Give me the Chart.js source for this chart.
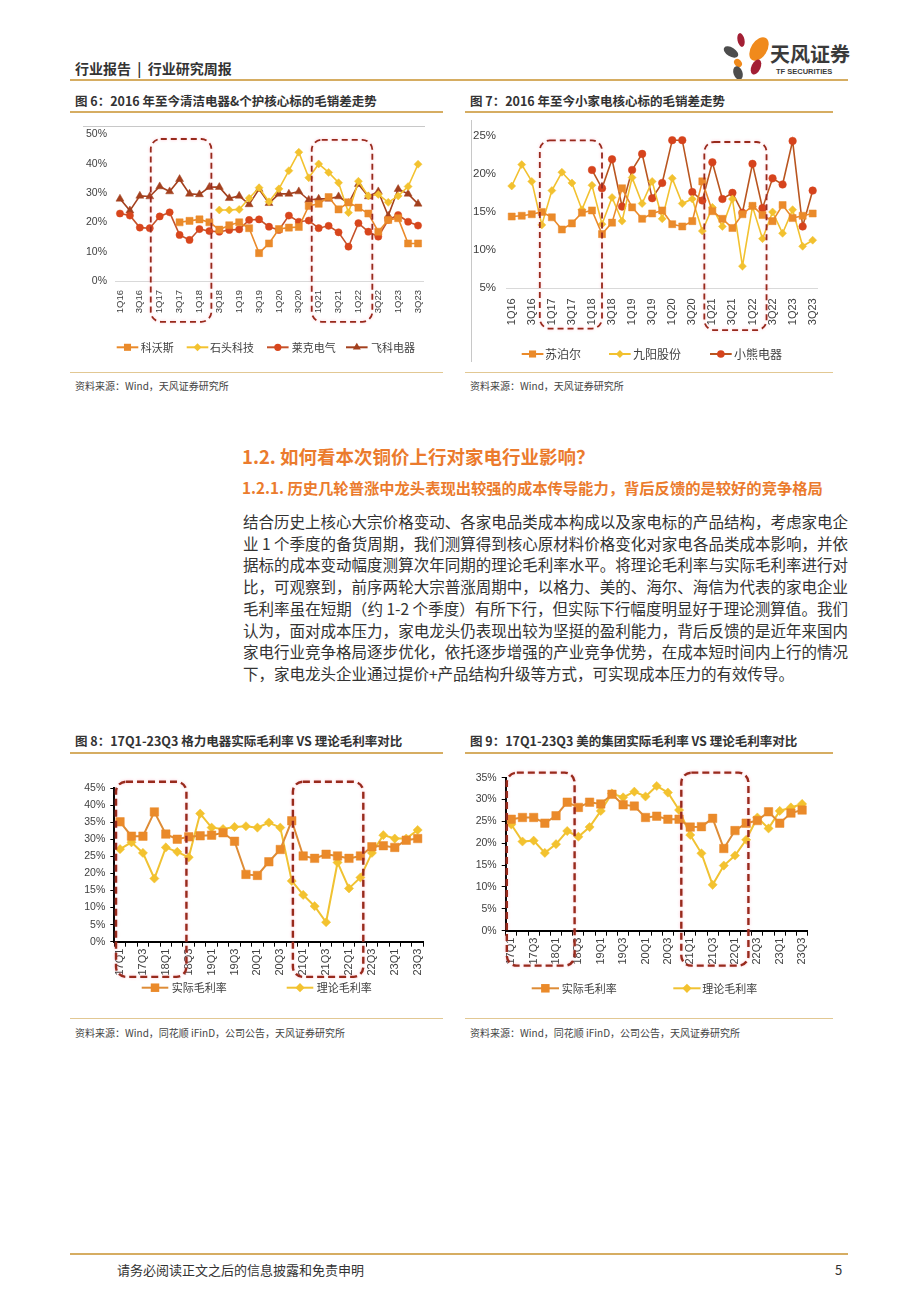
<!DOCTYPE html>
<html lang="zh-CN">
<head>
<meta charset="utf-8">
<title>行业研究周报</title>
<script src="https://cdn.jsdelivr.net/npm/chart.js@4.4.1/dist/chart.umd.min.js"></script>
<style>
  html, body { margin: 0; padding: 0; background: #fff; }
  body { width: 920px; height: 1302px; position: relative; overflow: hidden;
         font-family: "Noto Sans CJK SC", "Noto Sans", sans-serif; color: #333; }
  .a { position: absolute; white-space: nowrap; }
  .rule { position: absolute; background: #d6ad62; }
  .ctitle { font-size: 12.5px; font-weight: bold; line-height: 16px; color: #333; }
  .src { font-size: 10px; line-height: 14px; color: #444; }
  .h2 { font-size: 18.5px; font-weight: bold; line-height: 22px; color: #eb7b2d; }
  .h3 { font-size: 15.3px; font-weight: bold; line-height: 19px; color: #eb7b2d; }
  .body { position: absolute; left: 243px; top: 511px; width: 605px; font-size: 15.5px; line-height: 21.7px; color: #333; }
  .body div { text-align: justify; text-align-last: justify; white-space: nowrap; }
  .body div.last { text-align-last: left; }
  canvas { position: absolute; }
</style>
</head>
<body>

<!-- 页眉 -->
<div class="a" style="left:75px;top:59px;font-size:14px;font-weight:bold;line-height:18px;color:#333;">行业报告&nbsp;&nbsp;|&nbsp;&nbsp;行业研究周报</div>
<svg class="a" style="left:722px;top:30px;" width="50" height="52" viewBox="0 0 50 52">
  <ellipse cx="19" cy="10" rx="3.5" ry="7" fill="#a31f34" transform="rotate(-12 19 10)"/>
  <ellipse cx="37" cy="19" rx="8" ry="13" fill="#f08a1c" transform="rotate(32 37 19)"/>
  <ellipse cx="9" cy="22" rx="4.5" ry="8" fill="#4d4d4d" transform="rotate(-58 9 22)"/>
  <ellipse cx="16" cy="33" rx="3.5" ry="4.5" fill="#f08a1c" transform="rotate(-40 16 33)"/>
  <ellipse cx="34" cy="37" rx="4.5" ry="8" fill="#a31f34" transform="rotate(25 34 37)"/>
  <ellipse cx="16" cy="43" rx="4.5" ry="7" fill="#4d4d4d" transform="rotate(-20 16 43)"/>
</svg>
<div class="a" style="left:770px;top:42px;font-size:20px;font-weight:bold;line-height:24px;color:#3a3a3a;">天风证券</div>
<div class="a" style="left:776px;top:67px;font-size:7.5px;font-weight:bold;line-height:9px;color:#3a3a3a;font-family:'Liberation Sans',sans-serif;">TF SECURITIES</div>
<div class="rule" style="left:70px;top:79px;width:778px;height:2px;"></div>

<!-- 图6 / 图7 -->
<div class="a ctitle" style="left:75px;top:93px;">图 6：2016 年至今清洁电器&amp;个护核心标的毛销差走势</div>
<div class="a ctitle" style="left:470px;top:93px;">图 7：2016 年至今小家电核心标的毛销差走势</div>
<div class="rule" style="left:70px;top:111px;width:373px;height:1.5px;"></div>
<div class="rule" style="left:465px;top:111px;width:368px;height:1.5px;"></div>
<canvas id="c6" width="375" height="250" style="left:70px;top:118px;width:375px;height:250px;"></canvas>
<canvas id="c7" width="375" height="250" style="left:465px;top:118px;width:375px;height:250px;"></canvas>
<div class="rule" style="left:70px;top:372px;width:373px;height:1px;background:#e2c893;"></div>
<div class="rule" style="left:465px;top:372px;width:368px;height:1px;background:#e2c893;"></div>
<div class="a src" style="left:75px;top:379px;">资料来源：Wind，天风证券研究所</div>
<div class="a src" style="left:470px;top:379px;">资料来源：Wind，天风证券研究所</div>

<!-- 正文 -->
<div class="a h2" style="left:242px;top:445px;">1.2. 如何看本次铜价上行对家电行业影响？</div>
<div class="a h3" style="left:242px;top:478px;">1.2.1. 历史几轮普涨中龙头表现出较强的成本传导能力，背后反馈的是较好的竞争格局</div>
<div class="body">
  <div>结合历史上核心大宗价格变动、各家电品类成本构成以及家电标的产品结构，考虑家电企</div>
  <div>业 1 个季度的备货周期，我们测算得到核心原材料价格变化对家电各品类成本影响，并依</div>
  <div>据标的成本变动幅度测算次年同期的理论毛利率水平。将理论毛利率与实际毛利率进行对</div>
  <div>比，可观察到，前序两轮大宗普涨周期中，以格力、美的、海尔、海信为代表的家电企业</div>
  <div>毛利率虽在短期（约 1-2 个季度）有所下行，但实际下行幅度明显好于理论测算值。我们</div>
  <div>认为，面对成本压力，家电龙头仍表现出较为坚挺的盈利能力，背后反馈的是近年来国内</div>
  <div>家电行业竞争格局逐步优化，依托逐步增强的产业竞争优势，在成本短时间内上行的情况</div>
  <div class="last">下，家电龙头企业通过提价+产品结构升级等方式，可实现成本压力的有效传导。</div>
</div>

<!-- 图8 / 图9 -->
<div class="a ctitle" style="left:75px;top:733px;">图 8：17Q1-23Q3 格力电器实际毛利率 VS 理论毛利率对比</div>
<div class="a ctitle" style="left:470px;top:733px;">图 9：17Q1-23Q3 美的集团实际毛利率 VS 理论毛利率对比</div>
<div class="rule" style="left:70px;top:752px;width:373px;height:1.5px;"></div>
<div class="rule" style="left:465px;top:752px;width:368px;height:1.5px;"></div>
<canvas id="c8" width="375" height="255" style="left:70px;top:760px;width:375px;height:255px;"></canvas>
<canvas id="c9" width="375" height="255" style="left:465px;top:760px;width:375px;height:255px;"></canvas>
<div class="rule" style="left:70px;top:1018px;width:373px;height:1px;background:#e2c893;"></div>
<div class="rule" style="left:465px;top:1018px;width:368px;height:1px;background:#e2c893;"></div>
<div class="a src" style="left:75px;top:1026px;">资料来源：Wind，同花顺 iFinD，公司公告，天风证券研究所</div>
<div class="a src" style="left:470px;top:1026px;">资料来源：Wind，同花顺 iFinD，公司公告，天风证券研究所</div>

<!-- 页脚 -->
<div class="rule" style="left:70px;top:1253px;width:778px;height:2px;"></div>
<div class="a" style="left:117px;top:1261px;font-size:13px;line-height:18px;color:#333;">请务必阅读正文之后的信息披露和免责申明</div>
<div class="a" style="left:835px;top:1261px;font-size:13px;line-height:18px;color:#333;">5</div>

<script>
// ---------- 数据 ----------
// 图6、图7：1Q16 - 3Q23
const quarters16 = ['1Q16','2Q16','3Q16','4Q16','1Q17','2Q17','3Q17','4Q17','1Q18','2Q18','3Q18','4Q18',
  '1Q19','2Q19','3Q19','4Q19','1Q20','2Q20','3Q20','4Q20','1Q21','2Q21','3Q21','4Q21',
  '1Q22','2Q22','3Q22','4Q22','1Q23','2Q23','3Q23'];

const kewosi = [null,null,null,null,null,null,20,20.5,21,20,17.5,19,20,18,9.5,12.8,17.7,18.2,18.4,25.6,
  26.3,28.6,24.4,26.8,25,23,16.8,20.8,21.4,12.8,12.8];
const shitou = [null,null,null,null,null,null,null,null,null,null,24.2,24.2,24.4,28.2,31.8,27,31.4,37.6,43.9,35.2,
  39.9,37,33.5,23.3,34,29,29.5,26.8,29,32.2,39.8];
const laike = [23,22.3,18.2,18,22,23.4,15.7,14,17.7,17,16.8,17.4,17.6,20.8,21,18.5,17.4,22.3,20.2,20.6,
  18,18.8,16.6,11.7,19.7,16.8,15.1,20.8,22.5,20.2,18.9];
const feike = [28,24,29,28.8,32.2,30.5,34.7,29.7,29.5,32,32,28.2,29,26.1,31.3,26.5,29.7,29.7,30.5,27.6,
  28,28,28.8,26.5,33,28.8,30.5,22.2,31.3,29.7,26.3];

const supor = [14.4,14.5,14.7,15,14.3,12.7,13.5,14.9,15.2,12.1,13.6,18.1,15.6,14.1,14.8,15.2,13.4,13.1,13.8,19,
  15.1,14.1,12.9,14.7,15.8,14.6,13.8,15.9,14.2,14.5,14.8];
const joyoung = [18.4,21.2,19,13.3,17.8,20.2,18.8,15.3,18.5,13.4,16.9,13.8,19.5,16.1,19,14.1,19.4,16.1,16.7,12.5,
  15.6,13.1,16.7,7.9,15.7,11.5,15,12.2,15.3,10.5,11.3];
const bear = [null,null,null,null,null,null,null,null,20.5,18.1,21.9,15.7,20.5,22.6,16.8,18.8,24.4,24.4,17.6,16.5,
  21.5,16.7,17.5,14.9,21.3,15.5,19.4,18.6,24.3,13.1,17.8];

// 图8、图9：17Q1 - 23Q3
const quarters17 = ['17Q1','17Q2','17Q3','17Q4','18Q1','18Q2','18Q3','18Q4','19Q1','19Q2','19Q3','19Q4',
  '20Q1','20Q2','20Q3','20Q4','21Q1','21Q2','21Q3','21Q4','22Q1','22Q2','22Q3','22Q4','23Q1','23Q2','23Q3'];

const greeActual = [35.1,30.9,30.9,38,31.5,30,30.7,31,31.2,31.9,29.4,19.7,19.4,23.4,27,35.4,
  25.1,24.4,25.6,25.1,24.4,25.1,27.8,28.1,27.6,29.7,30.2];
const greeTheory = [27.1,29.1,26,18.5,27.6,26.3,24.7,37.5,33.4,33,33.6,33.8,33.4,34.9,33.4,17.8,
  13.7,10.4,5.7,23.2,15.6,18.8,26,31.2,30.2,30.2,32.7];

const mideaActual = [25.5,25.9,25.9,24.6,26.3,29.4,28.2,29.4,29,31.2,28.8,28.5,25.9,26.2,25.5,25.5,
  23.7,23.8,25.7,18.8,22.9,24.6,25.2,27.2,24.6,26.9,27.6];
const mideaTheory = [24.3,20.4,20.6,17.8,19.8,22.8,21.5,23.7,27.4,31.4,30.5,31.8,30.7,33.1,31.6,27.6,
  21.9,17.7,10.5,14.9,17.2,20.8,25.9,23.4,27.4,28.2,29];

// ---------- 绘图 ----------
Chart.defaults.font.family = "'Liberation Sans', 'Noto Sans CJK SC', sans-serif";
Chart.defaults.color = '#404040';
Chart.defaults.animation = false;

function markerPath(ctx, style, x, y, r) {
  ctx.beginPath();
  if (style === 'rect') {
    const s = r * Math.SQRT1_2;
    ctx.rect(x - s, y - s, 2 * s, 2 * s);
  } else if (style === 'rectRot') {
    ctx.moveTo(x, y - r); ctx.lineTo(x + r, y); ctx.lineTo(x, y + r); ctx.lineTo(x - r, y); ctx.closePath();
  } else if (style === 'triangle') {
    ctx.moveTo(x, y - r);
    ctx.lineTo(x + r * 0.866, y + r * 0.5);
    ctx.lineTo(x - r * 0.866, y + r * 0.5);
    ctx.closePath();
  } else {
    ctx.arc(x, y, r, 0, Math.PI * 2);
  }
}

function roundBox(ctx, x, y, w, h, r) {
  ctx.beginPath();
  ctx.moveTo(x + r, y);
  ctx.lineTo(x + w - r, y); ctx.arcTo(x + w, y, x + w, y + r, r);
  ctx.lineTo(x + w, y + h - r); ctx.arcTo(x + w, y + h, x + w - r, y + h, r);
  ctx.lineTo(x + r, y + h); ctx.arcTo(x, y + h, x, y + h - r, r);
  ctx.lineTo(x, y + r); ctx.arcTo(x, y, x + r, y, r);
  ctx.closePath();
}

// 边框线、红色虚线框、图例
const deco = {
  id: 'deco',
  afterDraw(chart, args, o) {
    const ctx = chart.ctx, xs = chart.scales.x, ys = chart.scales.y;
    ctx.save();
    (o.frame || []).forEach(f => {
      ctx.strokeStyle = '#c8c8c8'; ctx.lineWidth = 1;
      ctx.beginPath(); ctx.moveTo(f[0], f[1]); ctx.lineTo(f[2], f[3]); ctx.stroke();
    });
    ctx.strokeStyle = '#982a1c';
    ctx.lineWidth = o.boxWidth || 2;
    ctx.setLineDash(o.dash || [6, 4]);
    ctx.shadowColor = 'rgba(255,120,150,0.45)';
    ctx.shadowBlur = 3;
    (o.boxes || []).forEach(b => {
      const x1 = xs.getPixelForValue(b[0]), x2 = xs.getPixelForValue(b[1]);
      const y1 = ys.getPixelForValue(b[2]), y2 = ys.getPixelForValue(b[3]);
      roundBox(ctx, x1, y1, x2 - x1, y2 - y1, 10);
      ctx.stroke();
    });
    ctx.setLineDash([]);
    ctx.shadowBlur = 0; ctx.shadowColor = 'transparent';
    const lg = o.legend;
    if (lg) {
      chart.data.datasets.forEach((ds, k) => {
        const it = lg.items[k];
        ctx.strokeStyle = ds.borderColor; ctx.lineWidth = 2;
        ctx.beginPath(); ctx.moveTo(it[0], lg.y); ctx.lineTo(it[0] + lg.len, lg.y); ctx.stroke();
        markerPath(ctx, ds.pointStyle, it[0] + lg.len / 2, lg.y, ds.pointRadius);
        ctx.fillStyle = ds.pointBackgroundColor; ctx.fill();
        ctx.fillStyle = '#404040';
        ctx.font = lg.font + "px 'Noto Sans CJK SC', sans-serif";
        ctx.textBaseline = 'middle'; ctx.textAlign = 'left';
        ctx.fillText(ds.label, it[1], lg.y + 0.5);
      });
    }
    ctx.restore();
  }
};

function series(label, data, color, marker, r, lineColor, width) {
  return {
    label, data,
    borderColor: lineColor || color, borderWidth: width || 1.6,
    pointStyle: marker, pointRadius: r, pointHoverRadius: r,
    pointBackgroundColor: color, pointBorderColor: color, pointBorderWidth: 0.5,
    tension: 0, spanGaps: false, fill: false
  };
}

function build(id, c) {
  const even = (v, i) => (i % 2 === 0 ? c.labels[i] : '');
  const excel = c.excel;
  new Chart(document.getElementById(id), {
    type: 'line',
    data: { labels: c.labels, datasets: c.datasets },
    options: {
      responsive: false,
      animation: false,
      layout: { padding: c.padding },
      plugins: { legend: { display: false }, tooltip: { enabled: false }, deco: c.deco },
      scales: {
        x: {
          offset: true,
          afterFit: s => { s.height = c.xHeight; },
          grid: excel
            ? { display: true, offset: true, drawOnChartArea: false, drawTicks: true, tickLength: 5, color: '#000', lineWidth: 1 }
            : { display: false, drawTicks: false },
          border: excel ? { display: true, color: '#000', width: 2 } : { display: true, color: '#d9d9d9', width: 1 },
          ticks: { autoSkip: false, minRotation: 90, maxRotation: 90, padding: c.xPad,
                   font: { size: c.xFont }, color: '#404040', callback: even }
        },
        y: {
          min: c.yMin, max: c.yMax,
          afterFit: s => { s.width = c.yWidth; },
          grid: excel
            ? { display: true, drawOnChartArea: false, drawTicks: true, tickLength: 4, color: '#000' }
            : { display: false, drawTicks: false },
          border: excel ? { display: true, color: '#000', width: 2 } : { display: false },
          ticks: { stepSize: 5, padding: c.yPad, font: { size: c.yFont }, color: '#404040',
                   callback: v => v + '%' }
        }
      }
    },
    plugins: [deco]
  });
}

build('c6', {
  labels: quarters16,
  datasets: [
    series('科沃斯', kewosi, '#ea8a2a', 'rect', 5),
    series('石头科技', shitou, '#f3c22f', 'rectRot', 4),
    series('莱克电气', laike, '#d8461c', 'circle', 3.6, '#c5522a'),
    series('飞科电器', feike, '#a3401e', 'triangle', 4.6)
  ],
  padding: { left: 0, right: 22, top: 16.3, bottom: 37 },
  yWidth: 45, xHeight: 50, yPad: 8, xPad: 9, yMin: 0, yMax: 50, yFont: 10.5, xFont: 9.5,
  deco: {
    frame: [[13, 8.5, 355, 8.5]],
    boxes: [[3.1, 9.2, 48.4, -13.9], [19.3, 25.4, 48.1, -13.9]],
    dash: [6, 4], boxWidth: 1.8,
    legend: { y: 229.3, len: 21.6, font: 11, items: [[46.7, 70.7], [116.7, 140], [197, 221.7], [276, 301]] }
  }
});

build('c7', {
  labels: quarters16,
  datasets: [
    series('苏泊尔', supor, '#ea8a2a', 'rect', 5),
    series('九阳股份', joyoung, '#f2c12f', 'rectRot', 4),
    series('小熊电器', bear, '#d6431c', 'circle', 3.8, '#b9551f')
  ],
  padding: { left: 0, right: 22.3, top: 12, bottom: 29.7 },
  yWidth: 41.7, xHeight: 50, yPad: 10.7, xPad: 10, yMin: 5, yMax: 25, yFont: 11.5, xFont: 11,
  deco: {
    frame: [[6.5, 2, 6.5, 244]],
    boxes: [[2.8, 9.0, 24.37, -0.27], [19.2, 25.4, 24.16, -0.48]],
    dash: [6, 4], boxWidth: 1.8,
    legend: { y: 236, len: 21.7, font: 12, items: [[56.7, 80], [144, 168], [245, 269]] }
  }
});

build('c8', {
  labels: quarters17,
  excel: true,
  datasets: [
    series('实际毛利率', greeActual, '#ea8a2a', 'rect', 6, '#de8c36', 2),
    series('理论毛利率', greeTheory, '#f3c22f', 'rectRot', 4.6, '#f0c232', 2)
  ],
  padding: { left: 0, right: 21.6, top: 28, bottom: 33.3 },
  yWidth: 44.3, xHeight: 40, yPad: 5, xPad: 2, yMin: 0, yMax: 45, yFont: 10.5, xFont: 11,
  deco: {
    boxes: [[-0.35, 5.8, 46.85, -10.3], [15.1, 21.25, 46.85, -10.3]],
    dash: [7, 4], boxWidth: 2.4,
    legend: { y: 227.7, len: 26.6, font: 11, items: [[71.7, 101.7], [216.7, 246.7]] }
  }
});

build('c9', {
  labels: quarters17,
  excel: true,
  datasets: [
    series('实际毛利率', mideaActual, '#ea8a2a', 'rect', 6, '#de8c36', 2),
    series('理论毛利率', mideaTheory, '#f3c22f', 'rectRot', 4.6, '#f0c232', 2)
  ],
  padding: { left: 0, right: 32.3, top: 17.7, bottom: 44.3 },
  yWidth: 40.7, xHeight: 40, yPad: 5, xPad: 2, yMin: 0, yMax: 35, yFont: 10.5, xFont: 11,
  deco: {
    boxes: [[-0.4, 5.66, 36.15, -8.0], [15.2, 21.2, 36.15, -8.0]],
    dash: [7, 4], boxWidth: 2.4,
    legend: { y: 228.3, len: 27.3, font: 11, items: [[66.7, 96.7], [208.3, 237.3]] }
  }
});
</script>
</body>
</html>
